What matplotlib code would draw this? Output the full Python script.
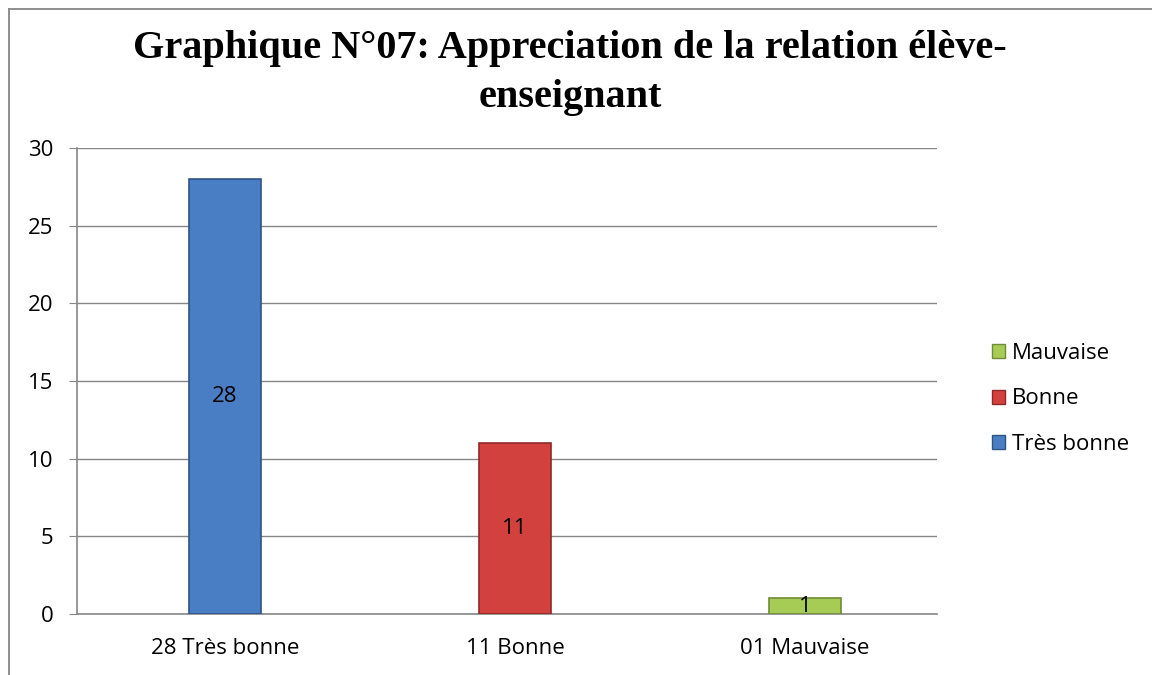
import matplotlib.pyplot as plt
from matplotlib.lines import Line2D
from matplotlib.patches import Patch

categories = ['28 Très bonne', '11 Bonne', '01 Mauvaise']
series = ['Très bonne', 'Bonne', 'Mauvaise']
values = [28, 11, 1]
colors = ['#4a7ec4', '#d3413f', '#a6cc55']
edges = ['#2c5586', '#8f2a28', '#6f8b35']

plt.rcParams['font.family'] = ['Open Sans', 'DejaVu Sans']

fig = plt.figure(figsize=(11.52, 6.75), dpi=100)
ax = fig.add_axes([0.0668, 0.0904, 0.7466, 0.6903])

x = range(len(categories))
bars = ax.bar(x, values, width=0.248, color=colors, edgecolor=edges, linewidth=1.2, zorder=3)
for b, v in zip(bars, values):
    ax.text(b.get_x() + b.get_width() / 2, v / 2, str(v), ha='center', va='center',
            fontsize=16, color='black', zorder=4)

ax.set_xlim(-0.51, 2.455)
ax.set_ylim(0, 30)
ax.set_yticks(range(0, 31, 5))
ax.set_xticks(list(x))
ax.set_xticklabels(categories)
ax.tick_params(axis='y', length=6, color='#868686', labelsize=16, pad=11)
ax.tick_params(axis='x', length=0, labelsize=16, pad=17)
ax.yaxis.grid(True, color='#868686', linewidth=1)
ax.set_axisbelow(True)
for s in ['top', 'right']:
    ax.spines[s].set_visible(False)
for s in ['left', 'bottom']:
    ax.spines[s].set_color('#868686')
    ax.spines[s].set_linewidth(1.2)

handles = [Patch(facecolor=colors[i], edgecolor=edges[i], label=series[i]) for i in range(3)][::-1]
fig.legend(handles=handles, loc='center left', bbox_to_anchor=(0.853, 0.409),
           frameon=False, fontsize=16, labelspacing=1.1, handlelength=0.6,
           handleheight=0.6, handletextpad=0.3, borderaxespad=0)

fig.text(0.495, 0.892, 'Graphique N°07: Appreciation de la relation élève-\nenseignant',
         ha='center', va='center', fontsize=29, fontweight='bold',
         family='Liberation Serif', linespacing=1.4)

# frame lines of the chart area
fig.add_artist(Line2D([9 / 1152, 9 / 1152], [0, 1 - 9 / 675], color='#868686', linewidth=1.3))
fig.add_artist(Line2D([9 / 1152, 1], [1 - 9 / 675, 1 - 9 / 675], color='#868686', linewidth=1.3))

fig.savefig('out.png', dpi=100)
